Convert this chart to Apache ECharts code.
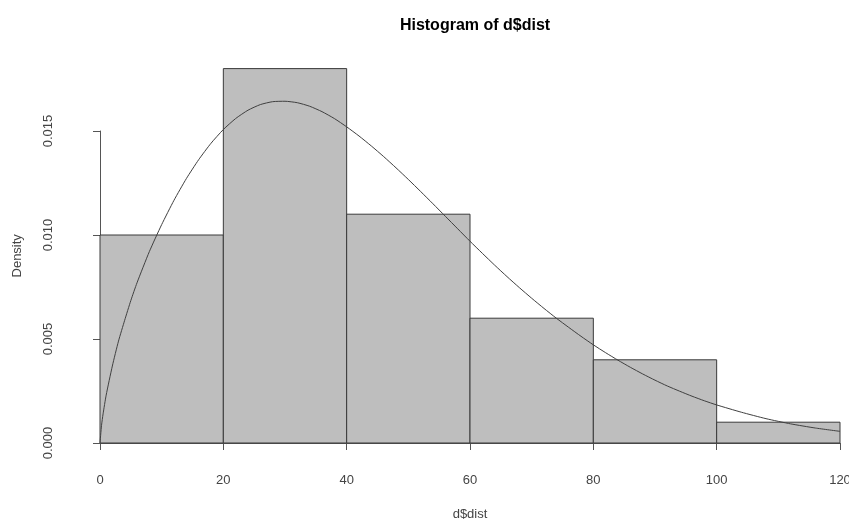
<!DOCTYPE html>
<html>
<head>
<meta charset="utf-8">
<script src="https://cdn.jsdelivr.net/npm/echarts@6/dist/echarts.min.js"></script>
<style>
html,body{margin:0;padding:0;background:#fff;}
#chart{width:849px;height:519px;}
</style>
</head>
<body>
<div id="chart"></div>
<script>
// Histogram bins (edges) and densities
const binEdges = [0, 20, 40, 60, 80, 100, 120];
const densities = [0.010, 0.018, 0.011, 0.006, 0.004, 0.001];

// Fitted density curve
const curveX = [0, 0.25, 0.5, 1, 2, 3, 4, 5, 6, 8, 10, 12, 14, 16, 18, 20, 22, 24, 26, 28, 30, 32, 34, 36, 38, 40,
  42, 44, 46, 48, 50, 52, 54, 56, 58, 60, 62, 64, 66, 68, 70, 72, 74, 76, 78, 80,
  82, 84, 86, 88, 90, 92, 94, 96, 98, 100, 104, 108, 112, 116, 120];
const curveY = [0, 0.00085, 0.0014, 0.0023, 0.0037, 0.0049, 0.0059, 0.00685, 0.0077, 0.0092, 0.0105, 0.01167, 0.01271, 0.01362, 0.01441, 0.01507, 0.0156, 0.0160, 0.01627, 0.01641, 0.01643, 0.01636, 0.01619, 0.01593, 0.0156, 0.0152,
  0.01476, 0.01428, 0.01377, 0.01323, 0.01267, 0.01209, 0.0115, 0.0109, 0.0103, 0.0097, 0.00912, 0.00855, 0.0080, 0.00747, 0.00696, 0.00647, 0.0060, 0.00556, 0.00513, 0.00472,
  0.00434, 0.00398, 0.00364, 0.00332, 0.00302, 0.00274, 0.00249, 0.00225, 0.00203, 0.00183, 0.00148, 0.00117, 0.00092, 0.00072, 0.00056];

// Axis ticks
const xTicks = [0, 20, 40, 60, 80, 100, 120];
const yTicks = [0, 0.005, 0.010, 0.015];

const FONT = 'Liberation Sans, Arial, sans-serif';
const histData = densities.map((d, i) => [binEdges[i], binEdges[i + 1], d]);
const curveData = curveX.map((x, i) => [x, curveY[i]]);

const chart = echarts.init(document.getElementById('chart'), null, {renderer: 'canvas'});
chart.setOption({
  animation: false,
  backgroundColor: '#ffffff',
  title: {
    text: 'Histogram of d$dist',
    left: 470,
    top: 13,
    textAlign: 'center',
    textStyle: {fontFamily: FONT, fontSize: 16, fontWeight: 'bold', color: '#000'}
  },
  grid: [
    {left: 100, right: 9, top: 68.6, bottom: 76, containLabel: false, outerBoundsMode: 'none'},
    {left: 100, right: 9, top: 131, bottom: 76, containLabel: false, outerBoundsMode: 'none'}
  ],
  xAxis: [
    {
      gridIndex: 0, type: 'value',
      min: xTicks[0], max: xTicks[xTicks.length - 1], interval: 20,
      offset: 15,
      name: 'd$dist', nameLocation: 'middle', nameGap: 50,
      nameTextStyle: {fontFamily: FONT, fontSize: 13, color: '#444'},
      axisLine: {show: true, lineStyle: {color: '#555', width: 1}},
      axisTick: {show: true, length: 7, lineStyle: {color: '#555'}},
      axisLabel: {fontFamily: FONT, fontSize: 13, color: '#444', margin: 16},
      splitLine: {show: false}
    },
    {
      gridIndex: 1, type: 'value', min: 0, max: 120, show: false
    }
  ],
  yAxis: [
    {
      gridIndex: 0, type: 'value', min: 0, max: 0.018,
      name: 'Density', nameLocation: 'middle', nameGap: 76,
      nameTextStyle: {fontFamily: FONT, fontSize: 13, color: '#444'},
      axisLine: {show: false}, axisTick: {show: false},
      axisLabel: {show: false}, splitLine: {show: false}
    },
    {
      gridIndex: 1, type: 'value',
      min: yTicks[0], max: yTicks[yTicks.length - 1], interval: 0.005,
      offset: 30,
      axisLine: {show: true, lineStyle: {color: '#555', width: 1}},
      axisTick: {show: true, length: 7, lineStyle: {color: '#555'}},
      axisLabel: {
        fontFamily: FONT, fontSize: 13, color: '#444', rotate: 90, margin: 15,
        formatter: v => v.toFixed(3)
      },
      splitLine: {show: false}
    }
  ],
  series: [
    {
      type: 'custom',
      xAxisIndex: 0, yAxisIndex: 0,
      data: histData,
      encode: {x: [0, 1], y: 2},
      renderItem: function (params, api) {
        const p0 = api.coord([api.value(0), 0]);
        const p1 = api.coord([api.value(1), api.value(2)]);
        return {
          type: 'rect',
          shape: {x: p0[0], y: p1[1], width: p1[0] - p0[0], height: p0[1] - p1[1]},
          style: {fill: '#bebebe', stroke: '#3a3a3a', lineWidth: 1}
        };
      }
    },
    {
      type: 'line',
      xAxisIndex: 0, yAxisIndex: 0,
      data: curveData,
      smooth: 0.2,
      showSymbol: false,
      symbol: 'none',
      clip: false,
      lineStyle: {color: '#404040', width: 1}
    }
  ]
});
</script>
</body>
</html>
